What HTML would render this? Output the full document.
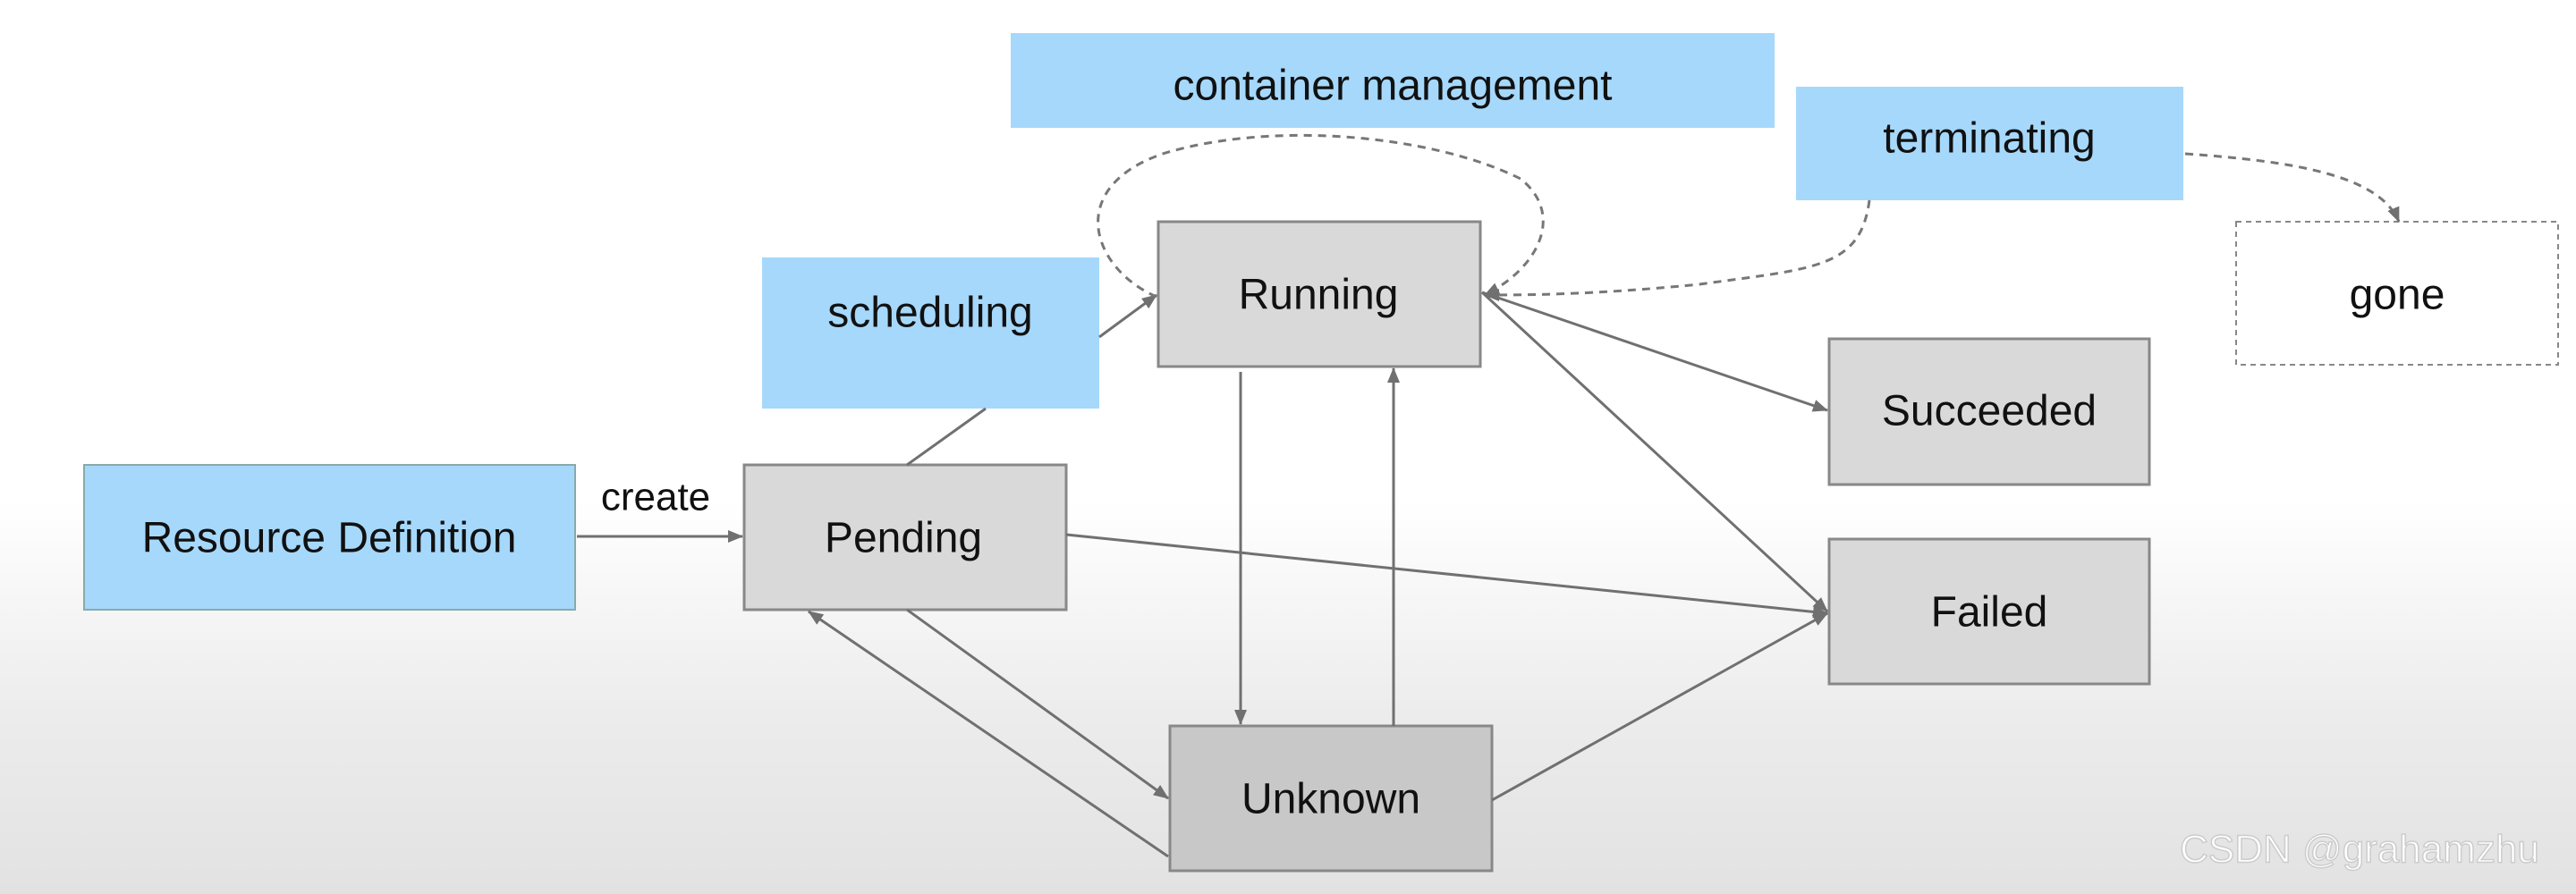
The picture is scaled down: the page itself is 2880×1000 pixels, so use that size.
<!DOCTYPE html>
<html><head><meta charset="utf-8"><style>
html,body{margin:0;padding:0;}
body{width:2880px;height:1000px;overflow:hidden;background:linear-gradient(to bottom,#ffffff 0px,#ffffff 560px,#ececec 800px,#e2e2e2 1000px);font-family:"Liberation Sans",sans-serif;}
svg{position:absolute;left:0;top:0}
</style></head><body>
<svg width="2880" height="1000" viewBox="0 0 2880 1000">
<defs>
<marker id="a" markerWidth="10" markerHeight="10" refX="9" refY="5" orient="auto" markerUnits="userSpaceOnUse" viewBox="0 0 10 10"><path d="M0,0 L10,5 L0,10 z" fill="#707070" transform="scale(1)"/></marker>
<marker id="b" markerWidth="18" markerHeight="18" refX="16" refY="9" orient="auto" markerUnits="userSpaceOnUse"><path d="M0,2 L17,9 L0,16 z" fill="#707070"/></marker>
</defs>
<g font-size="48" text-anchor="middle" dominant-baseline="central" fill="#111">
<rect x="1130" y="37" width="854" height="106" fill="#a6d8fb"/>
<text x="1557" y="96">container management</text>
<rect x="2008" y="97" width="433" height="127" fill="#a6d8fb"/>
<text x="2224" y="155">terminating</text>
<rect x="2500" y="248" width="360" height="160" fill="#fff" stroke="#888" stroke-width="2" stroke-dasharray="6,5"/>
<text x="2680" y="330">gone</text>
<rect x="852" y="288" width="377" height="169" fill="#a6d8fb"/>
<text x="1040" y="350">scheduling</text>
<rect x="1295" y="248" width="360" height="162" fill="#d9d9d9" stroke="#888" stroke-width="3"/>
<text x="1474" y="330">Running</text>
<rect x="2045" y="379" width="358" height="163" fill="#d9d9d9" stroke="#888" stroke-width="3"/>
<text x="2224" y="460">Succeeded</text>
<rect x="94" y="520" width="549" height="162" fill="#a6d8fb" stroke="#8aa" stroke-width="2"/>
<text x="368" y="602">Resource Definition</text>
<rect x="832" y="520" width="360" height="162" fill="#d9d9d9" stroke="#888" stroke-width="3"/>
<text x="1010" y="602">Pending</text>
<rect x="2045" y="603" width="358" height="162" fill="#d9d9d9" stroke="#888" stroke-width="3"/>
<text x="2224" y="685">Failed</text>
<rect x="1308" y="812" width="360" height="162" fill="#c8c8c8" stroke="#888" stroke-width="3"/>
<text x="1488" y="894">Unknown</text>
<text x="733" y="556" font-size="44">create</text>
<text x="2638" y="950" font-size="44" fill="#fff" stroke="#ccc" stroke-width="1.5">CSDN @grahamzhu</text>
</g>
<g stroke="#707070" stroke-width="3" fill="none">
<line x1="645" y1="600" x2="830" y2="600" marker-end="url(#b)"/>
<line x1="1014" y1="520" x2="1102" y2="457"/>
<line x1="1229" y1="377" x2="1293" y2="330" marker-end="url(#b)"/>
<line x1="1657" y1="327" x2="2043" y2="459" marker-end="url(#b)"/>
<line x1="1657" y1="327" x2="2043" y2="684" marker-end="url(#b)"/>
<line x1="1192" y1="598" x2="2043" y2="686" marker-end="url(#b)"/>
<line x1="1668" y1="895" x2="2043" y2="686" marker-end="url(#b)"/>
<line x1="1387" y1="416" x2="1387" y2="810" marker-end="url(#b)"/>
<line x1="1558" y1="812" x2="1558" y2="412" marker-end="url(#b)"/>
<line x1="1014" y1="682" x2="1306" y2="893" marker-end="url(#b)"/>
<line x1="1306" y1="958" x2="904" y2="684" marker-end="url(#b)"/>
</g>
<g stroke="#777" stroke-width="3" fill="none" stroke-dasharray="9,7">
<path d="M1293,332 C1220,300 1190,210 1300,172 C1420,135 1600,150 1700,200 C1750,240 1720,300 1660,330" marker-end="url(#b)"/>
<path d="M2090,224 C2080,300 2030,300 1900,318 C1780,330 1700,330 1660,330" marker-end="url(#b)"/>
<path d="M2443,172 C2560,180 2660,195 2682,248" marker-end="url(#b)"/>
</g>
</svg>
</body></html>
